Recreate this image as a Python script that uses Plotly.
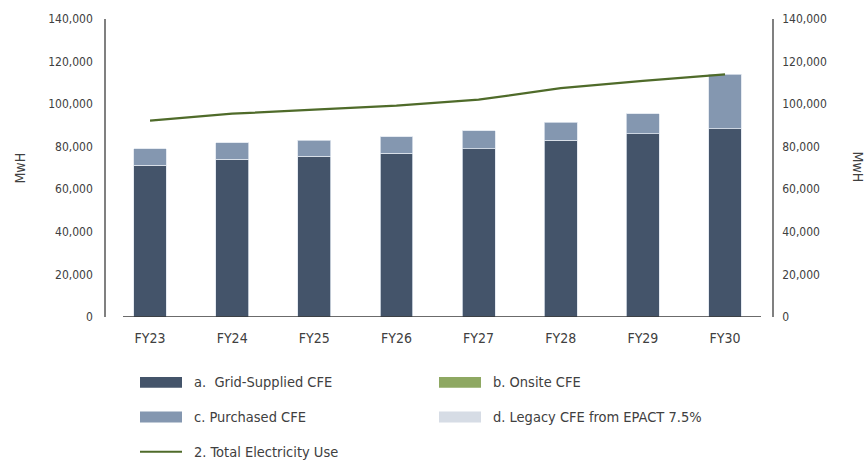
import plotly.graph_objects as go

# ---- data ----
years = ["FY23", "FY24", "FY25", "FY26", "FY27", "FY28", "FY29", "FY30"]
grid_cfe = [71400, 74100, 75600, 76900, 79000, 83100, 86200, 88500]
onsite_cfe = [0, 0, 0, 0, 0, 0, 0, 0]
purchased_cfe = [7600, 7700, 7500, 7700, 8600, 8500, 9300, 25500]
legacy_cfe = [0, 0, 0, 0, 0, 0, 0, 0]
total_use = [92300, 95500, 97400, 99300, 102100, 107500, 110900, 114000]
y_ticks = [0, 20000, 40000, 60000, 80000, 100000, 120000, 140000]

# ---- styles ----
C_GRID = "#44546a"
C_ONSITE = "#8ea862"
C_PURCH = "#8497b0"
C_LEGACY = "#d6dce5"
C_LINE = "#4f6b2a"
C_EDGE = "#dfe5ee"
TXT = "#404040"
FONT = "DejaVu Sans Condensed, Liberation Sans Narrow, sans-serif"

W, H = 867, 460
ML, MT = 106, 16
PW, PH = 666, 301
MR = W - ML - PW
MB = H - MT - PH


def px_x(px):
    return (px - ML) / PW


def px_y(py):
    return (MT + PH - py) / PH


edge = dict(color=C_EDGE, width=0.8)
fig = go.Figure()
fig.add_bar(x=years, y=grid_cfe, name="a.  Grid-Supplied CFE", marker=dict(color=C_GRID, line=edge))
fig.add_bar(x=years, y=onsite_cfe, name="b. Onsite CFE", marker=dict(color=C_ONSITE, line=dict(width=0)))
fig.add_bar(x=years, y=purchased_cfe, name="c. Purchased CFE", marker=dict(color=C_PURCH, line=edge))
fig.add_bar(x=years, y=legacy_cfe, name="d. Legacy CFE from EPACT 7.5%",
            marker=dict(color=C_LEGACY, line=dict(width=0)))
fig.add_scatter(x=years, y=total_use, name="2. Total Electricity Use", mode="lines",
                line=dict(color=C_LINE, width=2.2), yaxis="y2")

tick_text = [f"{v:,}" for v in y_ticks]
axis_common = dict(range=[0, 140000], tickvals=y_ticks, ticktext=tick_text,
                   showgrid=False, zeroline=False, showline=True,
                   linecolor="#808080", linewidth=1.6,
                   tickfont=dict(family=FONT, size=12, color=TXT),
                   ticks="")

fig.update_layout(
    width=W, height=H,
    margin=dict(l=ML, r=MR, t=MT, b=MB),
    paper_bgcolor="white", plot_bgcolor="white",
    barmode="stack", bargap=0.6,
    showlegend=False,
    font=dict(family=FONT, size=14, color=TXT),
    xaxis=dict(type="category", range=[-0.536, 7.572], showline=False, showgrid=False,
               zeroline=False, ticks="", tickfont=dict(family=FONT, size=14, color=TXT),
               ticklabelstandoff=11),
    yaxis=dict(**axis_common, side="left", ticklabelstandoff=9),
    yaxis2=dict(**axis_common, side="right", overlaying="y", ticklabelstandoff=6),
)

shapes = []
annotations = []
# category baseline
shapes.append(dict(type="line", xref="paper", yref="y", x0=px_x(123), x1=px_x(761), y0=0, y1=0,
                   line=dict(color="#3a3a3a", width=1.6), layer="above"))

# axis titles
annotations.append(dict(text="MwH", xref="paper", yref="paper", x=px_x(20), y=px_y(167),
                        textangle=-90, showarrow=False, font=dict(family=FONT, size=14, color=TXT),
                        xanchor="center", yanchor="middle"))
annotations.append(dict(text="MwH", xref="paper", yref="paper", x=px_x(858), y=px_y(165),
                        textangle=90, showarrow=False, font=dict(family=FONT, size=14, color=TXT),
                        xanchor="center", yanchor="middle"))

# custom legend
legend_items = [
    ("a.  Grid-Supplied CFE", C_GRID, "box", 140, 383),
    ("b. Onsite CFE", C_ONSITE, "box", 439, 383),
    ("c. Purchased CFE", C_PURCH, "box", 140, 418),
    ("d. Legacy CFE from EPACT 7.5%", C_LEGACY, "box", 439, 418),
    ("2. Total Electricity Use", C_LINE, "line", 140, 453),
]
for label, color, kind, sx, sy in legend_items:
    if kind == "box":
        shapes.append(dict(type="rect", xref="paper", yref="paper",
                           x0=px_x(sx), x1=px_x(sx + 42), y0=px_y(sy + 5.5), y1=px_y(sy - 5.5),
                           fillcolor=color, line=dict(width=0)))
    else:
        shapes.append(dict(type="line", xref="paper", yref="paper",
                           x0=px_x(sx), x1=px_x(sx + 42), y0=px_y(sy), y1=px_y(sy),
                           line=dict(color=color, width=2)))
    annotations.append(dict(text=label, xref="paper", yref="paper", x=px_x(sx + 52), y=px_y(sy),
                            xanchor="left", yanchor="middle", showarrow=False,
                            font=dict(family=FONT, size=14.5, color=TXT)))

fig.update_layout(shapes=shapes, annotations=annotations)
fig.write_html(
    "out.html",
    config={"displayModeBar": False},
    post_script="document.body.style.margin='0px';document.body.style.overflow='hidden';",
)
